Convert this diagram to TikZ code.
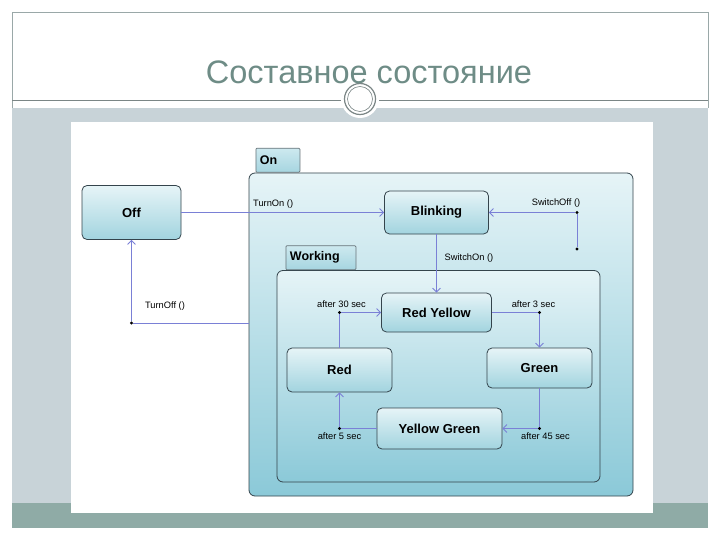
\documentclass[tikz,border=0pt]{standalone}
\usepackage{fontspec}
\setmainfont{Liberation Sans}
\usepackage{xcolor}
\usetikzlibrary{positioning,arrows.meta}

\definecolor{titulo}{HTML}{6E8C86}
\definecolor{faixa}{HTML}{C8D3D8}
\definecolor{faixaesc}{HTML}{8FABA6}
\definecolor{moldura}{HTML}{9AA8A8}
\definecolor{borda}{HTML}{34444C}
\definecolor{trans}{HTML}{7A80D6}
\definecolor{claro}{HTML}{E6F4F7}
\definecolor{escuro}{HTML}{A2D4DF}
\definecolor{fundo}{HTML}{8BC9D8}
\definecolor{abaclara}{HTML}{CDE9EF}
\definecolor{abaescura}{HTML}{A6D5E0}

\begin{document}
\begin{tikzpicture}[x=1pt,y=-1pt,
  estado/.style args={#1x#2}{draw=borda, line width=0.8pt, rounded corners=5pt,
    top color=claro, bottom color=escuro, minimum width=#1, minimum height=#2,
    inner sep=0pt, font=\bfseries\fontsize{13}{15}\selectfont},
  composto/.style args={#1x#2}{draw=borda, line width=0.8pt, rounded corners=6pt,
    top color=claro, bottom color=fundo, minimum width=#1, minimum height=#2, inner sep=0pt},
  aba/.style={draw=borda!75!white, line width=0.7pt, rounded corners=1pt,
    top color=abaclara, bottom color=abaescura,
    text width=#1, align=left, inner xsep=4pt, minimum height=24,
    font=\bfseries\fontsize{12.5}{14}\selectfont},
  seta/.style={draw=trans, line width=0.8pt, -{Straight Barb[length=4pt,width=8pt]}},
  ponto/.style={circle, fill=black, inner sep=0pt, minimum size=3.2pt},
  evento/.style={inner sep=1pt, font=\fontsize{9.3}{11}\selectfont}]
\useasboundingbox (0,0) rectangle (720,540);

% Moldura do slide
\fill[white] (0,0) rectangle (720,540);
\fill[faixa] (12,108) rectangle (708,503);
\fill[faixaesc] (12,503) rectangle (708,528);
\draw[moldura, line width=0.7pt] (12,108) -- (12,12) -- (708,12) -- (708,108);
\draw[moldura!80!black, line width=0.8pt] (12,100) -- (708,100);
\fill[white] (360,99) circle (19);
\draw[moldura!80!black, line width=1.2pt] (360,99) circle (15.5);
\draw[moldura!80!black, line width=0.6pt] (360,99) circle (12.5);
\node[titulo, font=\fontsize{32.5}{38}\selectfont] (tit) at (369,72) {Составное состояние};
\fill[white] (71,122) rectangle (653,513);

% Estados compostos
\node[composto=384x323] (on) at (441,334.5) {};
\node[aba=36, above right=0pt and 7pt of on.north west, anchor=south west] (abaon) {On};
\node[composto=323x211.5] (work) at (438.5,376.25) {};
\node[aba=62, above right=0pt and 9pt of work.north west, anchor=south west] (abawork) {Working};

% Estados simples
\node[estado=99x54] (off) at (131.5,212.5) {Off};
\node[estado=104x43] (blink) at (436.5,212.5) {Blinking};
\node[estado=110x39] (ry) at (436.5,312.5) {Red Yellow};
\node[estado=105x40] (green) at (539.5,368) {Green};
\node[estado=105x44] (red) at (339.5,370) {Red};
\node[estado=125x41] (yg) at (439.5,428.5) {Yellow Green};

% Pontos de junção
\node[ponto] (jsw1) at (577,212.5) {};
\node[ponto] (jsw2) at (577,249) {};
\node[ponto] (j30) at (red |- ry) {};
\node[ponto] (j3) at (green |- ry) {};
\node[ponto] (j45) at (green |- yg) {};
\node[ponto] (j5) at (red |- yg) {};
\node[ponto] (joff) at (131.5,323) {};

% Transições
\draw[seta] (off) -- (blink);
\draw[seta] (jsw2) -- (jsw1) -- (blink);
\draw[seta] (blink) -- (ry);
\draw[seta] (red) -- (j30) -- (ry);
\draw[seta] (ry) -- (j3) -- (green);
\draw[seta] (green) -- (j45) -- (yg);
\draw[seta] (yg) -- (j5) -- (red);
\draw[seta] (on.west |- joff) -- (joff) -- (off);

% Rótulos
\node[evento, anchor=west] (lon) at (252,204) {TurnOn ()};
\node[evento] (lsoff) at (556,203) {SwitchOff ()};
\node[evento] (lson) at (469,258) {SwitchOn ()};
\node[evento, above=1.5pt of j30, xshift=2pt] (l30) {after 30 sec};
\node[evento, above=1.5pt of j3, xshift=-6pt] (l3) {after 3 sec};
\node[evento, below=1.5pt of j45, xshift=6pt] (l45) {after 45 sec};
\node[evento, below=1.5pt of j5] (l5) {after 5 sec};
\node[evento] (loff) at (165,306) {TurnOff ()};
\end{tikzpicture}
\end{document}
